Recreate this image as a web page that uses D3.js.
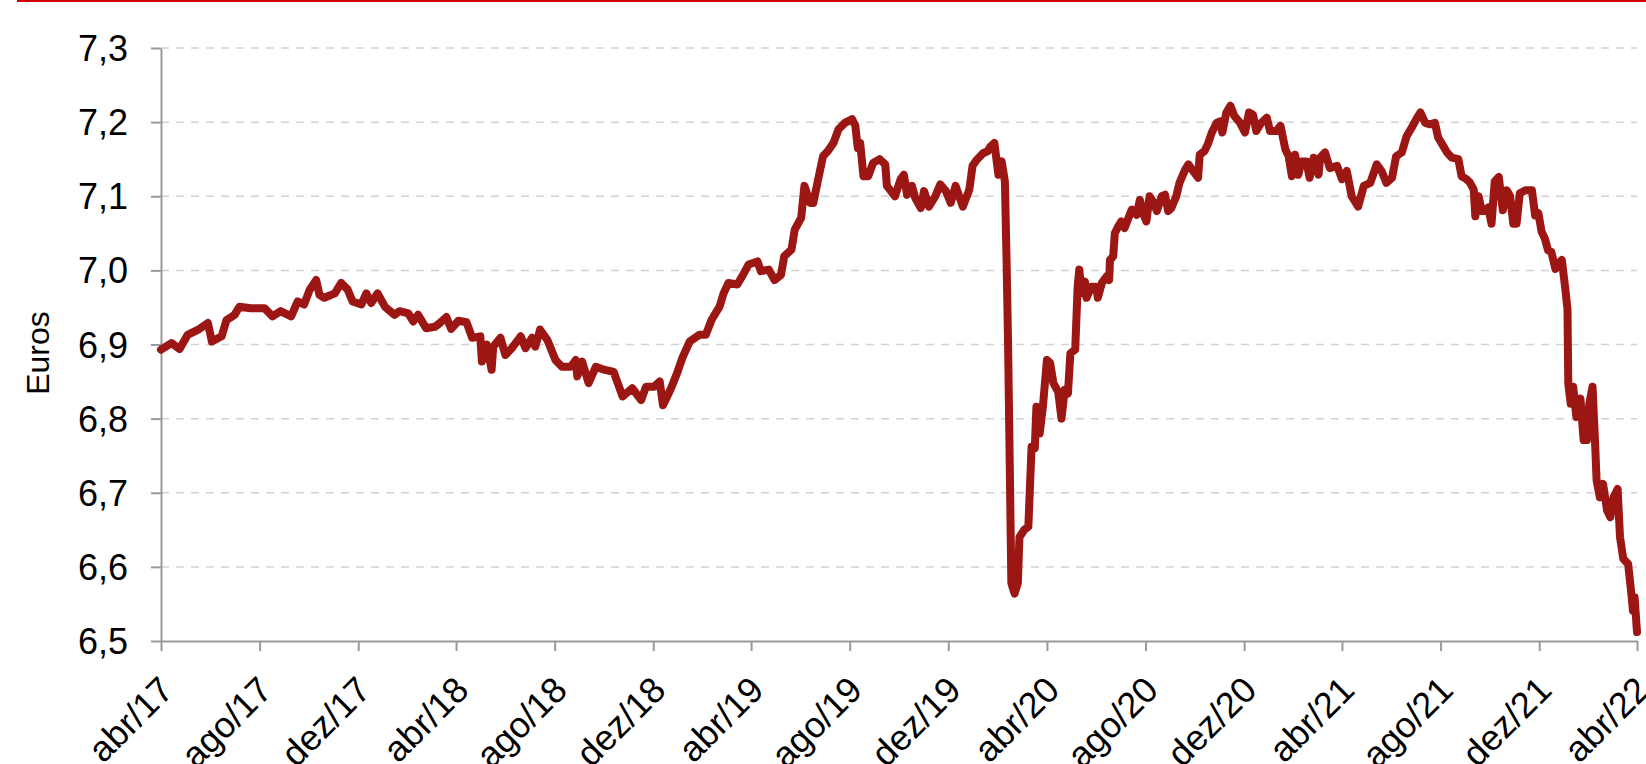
<!DOCTYPE html>
<html>
<head>
<meta charset="utf-8">
<script src="https://cdnjs.cloudflare.com/ajax/libs/d3/7.8.5/d3.min.js"></script>
<style>
  html, body { margin: 0; padding: 0; background: #ffffff; }
  svg { display: block; font-family: "Liberation Sans", Arial, sans-serif; }
</style>
</head>
<body>
<svg id="chart" width="1646" height="764"></svg>
<script>
// ---- DATA ----
const dates = [
"2017-04-01","2017-04-14","2017-04-24","2017-05-04","2017-05-17","2017-05-29","2017-06-03","2017-06-15","2017-06-21","2017-07-01",
"2017-07-07","2017-07-21","2017-08-07","2017-08-17","2017-08-27","2017-09-09","2017-09-17","2017-09-25","2017-10-02","2017-10-10",
"2017-10-14","2017-10-20","2017-11-02","2017-11-10","2017-11-18","2017-11-24","2017-12-05","2017-12-11","2017-12-17","2017-12-25",
"2018-01-03","2018-01-15","2018-01-21","2018-02-01","2018-02-07","2018-02-13","2018-02-23","2018-03-06","2018-03-12","2018-03-20",
"2018-03-26","2018-04-04","2018-04-14","2018-04-21","2018-05-01","2018-05-03","2018-05-09","2018-05-15","2018-05-17","2018-05-26",
"2018-06-01","2018-06-09","2018-06-20","2018-06-26","2018-07-04","2018-07-08","2018-07-14","2018-07-23","2018-08-02","2018-08-10",
"2018-08-21","2018-08-27","2018-08-29","2018-09-04","2018-09-12","2018-09-21","2018-10-01","2018-10-13","2018-10-24","2018-11-05",
"2018-11-16","2018-11-22","2018-12-02","2018-12-09","2018-12-13","2018-12-23","2018-12-31","2019-01-06","2019-01-15","2019-01-27",
"2019-02-04","2019-02-11","2019-02-21","2019-02-26","2019-03-04","2019-03-15","2019-03-21","2019-03-29","2019-04-09","2019-04-13",
"2019-04-23","2019-04-30","2019-05-08","2019-05-12","2019-05-21","2019-05-25","2019-06-02","2019-06-06","2019-06-13","2019-06-17",
"2019-06-23","2019-06-29","2019-07-05","2019-07-12","2019-07-18","2019-07-26","2019-08-04","2019-08-08","2019-08-11","2019-08-14",
"2019-08-18","2019-08-24","2019-08-30","2019-09-07","2019-09-14","2019-09-16","2019-09-26","2019-10-03","2019-10-07","2019-10-11",
"2019-10-17","2019-10-21","2019-10-28","2019-11-01","2019-11-07","2019-11-15","2019-11-21","2019-11-28","2019-12-04","2019-12-10",
"2019-12-19","2019-12-27","2019-12-31","2020-01-05","2020-01-13","2020-01-19","2020-01-22","2020-01-27","2020-02-01","2020-02-05",
"2020-02-09","2020-02-11","2020-02-13","2020-02-17","2020-02-21","2020-02-25","2020-02-27","2020-03-04","2020-03-09","2020-03-13",
"2020-03-17","2020-03-19","2020-03-23","2020-03-27","2020-04-01","2020-04-05","2020-04-09","2020-04-15","2020-04-19","2020-04-23",
"2020-04-27","2020-04-30","2020-05-06","2020-05-09","2020-05-11","2020-05-14","2020-05-18","2020-05-20","2020-05-26","2020-06-01",
"2020-06-03","2020-06-08","2020-06-14","2020-06-17","2020-06-18","2020-06-22","2020-06-24","2020-06-28","2020-07-02","2020-07-06",
"2020-07-11","2020-07-15","2020-07-21","2020-07-25","2020-07-29","2020-08-02","2020-08-06","2020-08-10","2020-08-15","2020-08-21",
"2020-08-25","2020-08-29","2020-09-02","2020-09-08","2020-09-12","2020-09-19","2020-09-23","2020-09-29","2020-10-05","2020-10-07",
"2020-10-13","2020-10-17","2020-10-22","2020-10-28","2020-11-01","2020-11-04","2020-11-09","2020-11-14","2020-11-19","2020-11-26",
"2020-12-02","2020-12-07","2020-12-12","2020-12-16","2020-12-22","2020-12-29","2021-01-02","2021-01-10","2021-01-15","2021-01-21",
"2021-01-25","2021-01-29","2021-02-02","2021-02-06","2021-02-10","2021-02-16","2021-02-20","2021-02-25","2021-03-03","2021-03-05",
"2021-03-11","2021-03-17","2021-03-26","2021-04-01","2021-04-07","2021-04-13","2021-04-21","2021-04-28","2021-05-06","2021-05-14",
"2021-05-20","2021-05-26","2021-06-02","2021-06-07","2021-06-14","2021-06-20","2021-06-26","2021-07-02","2021-07-07","2021-07-13",
"2021-07-19","2021-07-25","2021-07-29","2021-08-02","2021-08-09","2021-08-15","2021-08-23","2021-08-27","2021-09-02","2021-09-06",
"2021-09-11","2021-09-13","2021-09-17","2021-09-21","2021-09-25","2021-09-29","2021-10-03","2021-10-07","2021-10-12","2021-10-17",
"2021-10-22","2021-10-26","2021-10-30","2021-11-03","2021-11-07","2021-11-14","2021-11-22","2021-11-26","2021-11-30","2021-12-04",
"2021-12-08","2021-12-12","2021-12-16","2021-12-21","2021-12-25","2021-12-29","2022-01-02","2022-01-05","2022-01-06","2022-01-09",
"2022-01-12","2022-01-16","2022-01-21","2022-01-25","2022-01-29","2022-02-01","2022-02-05","2022-02-08","2022-02-10","2022-02-14",
"2022-02-18","2022-02-23","2022-02-27","2022-03-03","2022-03-08","2022-03-11","2022-03-15","2022-03-21","2022-03-25","2022-03-27",
"2022-03-29","2022-04-01"
];
const values = [
6.893,6.902,6.894,6.913,6.920,6.929,6.904,6.911,6.933,6.940,
6.951,6.949,6.949,6.938,6.945,6.938,6.958,6.954,6.974,6.987,
6.967,6.963,6.969,6.983,6.974,6.958,6.954,6.969,6.956,6.969,
6.951,6.940,6.945,6.942,6.931,6.940,6.922,6.924,6.929,6.937,
6.921,6.932,6.930,6.909,6.911,6.877,6.900,6.866,6.897,6.909,
6.886,6.895,6.911,6.895,6.909,6.897,6.920,6.906,6.879,6.870,
6.870,6.879,6.857,6.877,6.848,6.870,6.866,6.863,6.830,6.841,
6.825,6.843,6.843,6.850,6.818,6.841,6.863,6.882,6.904,6.913,
6.913,6.933,6.951,6.969,6.983,6.981,6.992,7.008,7.012,6.999,
7.001,6.987,6.994,7.019,7.028,7.055,7.071,7.114,7.091,7.091,
7.123,7.154,7.161,7.172,7.190,7.199,7.204,7.195,7.165,7.172,
7.127,7.127,7.145,7.150,7.143,7.114,7.100,7.123,7.129,7.102,
7.114,7.098,7.084,7.107,7.086,7.100,7.116,7.107,7.091,7.114,
7.086,7.109,7.141,7.149,7.158,7.161,7.167,7.172,7.129,7.147,
7.120,7.018,6.897,6.578,6.564,6.578,6.640,6.650,6.654,6.762,
6.760,6.816,6.780,6.816,6.879,6.875,6.848,6.836,6.800,6.839,
6.834,6.888,6.893,6.978,7.001,6.969,6.985,6.963,6.978,6.978,
6.963,6.983,6.992,6.987,7.014,7.019,7.050,7.059,7.066,7.057,
7.071,7.082,7.075,7.095,7.077,7.066,7.100,7.093,7.080,7.100,
7.102,7.080,7.084,7.100,7.118,7.136,7.143,7.134,7.125,7.156,
7.161,7.170,7.186,7.199,7.201,7.186,7.213,7.222,7.208,7.199,
7.186,7.213,7.210,7.188,7.199,7.206,7.188,7.188,7.195,7.163,
7.154,7.127,7.156,7.129,7.147,7.147,7.125,7.152,7.129,7.152,
7.159,7.138,7.141,7.123,7.134,7.100,7.086,7.114,7.118,7.143,
7.134,7.118,7.125,7.154,7.159,7.181,7.192,7.204,7.213,7.199,
7.197,7.199,7.179,7.172,7.159,7.152,7.150,7.127,7.123,7.119,
7.109,7.073,7.100,7.080,7.080,7.085,7.063,7.120,7.126,7.081,
7.108,7.100,7.063,7.063,7.104,7.108,7.108,7.074,7.077,7.052,
7.043,7.027,7.025,7.002,7.009,7.014,6.978,6.948,6.847,6.820,
6.843,6.802,6.827,6.771,6.771,6.820,6.843,6.771,6.717,6.694,
6.712,6.676,6.667,6.694,6.705,6.640,6.611,6.604,6.564,6.541,
6.559,6.512
];
const yTickValues = [6.5, 6.6, 6.7, 6.8, 6.9, 7.0, 7.1, 7.2, 7.3];
const yTickLabels = ["6,5", "6,6", "6,7", "6,8", "6,9", "7,0", "7,1", "7,2", "7,3"];
const xTickDates = ["2017-04-01","2017-08-01","2017-12-01","2018-04-01","2018-08-01","2018-12-01",
  "2019-04-01","2019-08-01","2019-12-01","2020-04-01","2020-08-01","2020-12-01",
  "2021-04-01","2021-08-01","2021-12-01","2022-04-01"];
const xTickLabels = ["abr/17","ago/17","dez/17","abr/18","ago/18","dez/18",
  "abr/19","ago/19","dez/19","abr/20","ago/20","dez/20",
  "abr/21","ago/21","dez/21","abr/22"];
const yAxisTitle = "Euros";

// ---- CHART ----
(function () {
const parse = d3.timeParse("%Y-%m-%d");
const series = dates.map((d, i) => ({ date: parse(d), value: values[i] }));
const xTicks = xTickDates.map(parse);

const svg = d3.select("#chart");
const mLeft = 161, mRight = 1637, mTop = 48, mBottom = 641;

const x = d3.scaleTime().domain([parse("2017-04-01"), parse("2022-04-01")]).range([mLeft, mRight]);
const y = d3.scaleLinear().domain([6.5, 7.3]).range([mBottom, mTop]);

// top red rule
svg.append("rect").attr("x", 17).attr("y", 0).attr("width", 1646 - 17).attr("height", 2).attr("fill", "#d00000");

// gridlines
svg.append("g").selectAll("line")
  .data(yTickValues.filter(v => v > 6.5))
  .join("line")
  .attr("x1", mLeft).attr("x2", mRight)
  .attr("y1", d => y(d)).attr("y2", d => y(d))
  .attr("stroke", "#d3d3d3").attr("stroke-width", 1.5)
  .attr("stroke-dasharray", "8,7");

// y axis
const yAxis = d3.axisLeft(y)
  .tickValues(yTickValues)
  .tickFormat((d, i) => yTickLabels[i])
  .tickSize(10).tickSizeOuter(0).tickPadding(23);
const gy = svg.append("g").attr("transform", `translate(${mLeft},0)`).call(yAxis);
gy.select(".domain").attr("stroke", "#999").attr("stroke-width", 2);
gy.selectAll(".tick line").attr("stroke", "#999").attr("stroke-width", 2);
gy.selectAll(".tick text").attr("font-size", 36).attr("fill", "#000")
  .attr("font-family", "'Liberation Sans', Arial, sans-serif").attr("dy", "0.35em");

// x axis
const xAxis = d3.axisBottom(x)
  .tickValues(xTicks)
  .tickFormat((d, i) => xTickLabels[i])
  .tickSize(10).tickSizeOuter(0);
const gx = svg.append("g").attr("transform", `translate(0,${mBottom})`).call(xAxis);
gx.select(".domain").attr("stroke", "#999").attr("stroke-width", 2);
gx.selectAll(".tick line").attr("stroke", "#999").attr("stroke-width", 2);
gx.selectAll(".tick text")
  .attr("font-size", 36).attr("fill", "#000")
  .attr("font-family", "'Liberation Sans', Arial, sans-serif")
  .attr("x", 0).attr("y", 0).attr("dy", 0)
  .attr("text-anchor", "end")
  .attr("transform", "translate(14,51) rotate(-45)");

// y axis title
svg.append("text")
  .attr("transform", "translate(49,353) rotate(-90)")
  .attr("text-anchor", "middle")
  .attr("font-size", 32)
  .attr("fill", "#000")
  .text(yAxisTitle);

// line
const line = d3.line().x(d => x(d.date)).y(d => y(d.value));
svg.append("path")
  .datum(series)
  .attr("fill", "none")
  .attr("stroke", "#9c1613")
  .attr("stroke-width", 8)
  .attr("stroke-linejoin", "round")
  .attr("stroke-linecap", "round")
  .attr("d", line);
})();
</script>
</body>
</html>
